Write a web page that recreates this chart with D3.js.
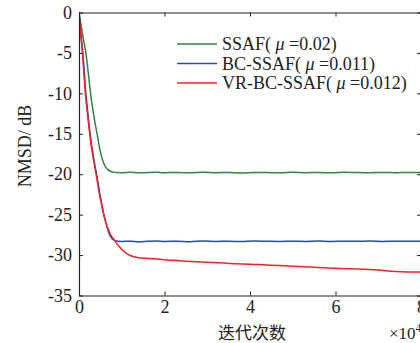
<!DOCTYPE html>
<html>
<head>
<meta charset="utf-8">
<script src="https://cdn.jsdelivr.net/npm/d3@7"></script>
<style>
  body { margin: 0; background: #fff; }
  svg { display: block; }
  text { font-family: "Liberation Serif", "DejaVu Serif", serif; fill: #222; }
</style>
</head>
<body>
<svg id="chart" width="420" height="343"></svg>
<script>
// x in units of 10^4 iterations, y in dB
var xTicks = [0, 2, 4, 6, 8];
var yTicks = [0, -5, -10, -15, -20, -25, -30, -35];
var seriesNames = ["SSAF( ", "BC-SSAF( ", "VR-BC-SSAF( "];
var seriesMu = [" =0.02)", " =0.011)", " =0.012)"];
var seriesColors = ["#2e8540", "#1f4fa6", "#f02323"];

var ssaf = [[0,0],[0.05,-1.6],[0.1,-3.2],[0.16,-5],[0.22,-7.6],[0.27,-10],[0.32,-11.9],[0.37,-13.5],
  [0.43,-15.2],[0.49,-17.0],[0.55,-18.2],[0.6,-18.9],[0.66,-19.35],[0.72,-19.6],[0.8,-19.74],[0.9,-19.8],
  [1.0,-19.82],[1.2,-19.77],[1.4,-19.83],[1.6,-19.79],[1.8,-19.76],[2.0,-19.82],[2.3,-19.78],[2.6,-19.83],
  [2.9,-19.77],[3.2,-19.81],[3.5,-19.79],[3.8,-19.84],[4.1,-19.78],[4.4,-19.8],[4.7,-19.82],[5.0,-19.77],
  [5.3,-19.81],[5.6,-19.78],[5.9,-19.83],[6.2,-19.76],[6.5,-19.8],[6.8,-19.82],[7.1,-19.78],[7.4,-19.81],
  [7.7,-19.79],[8.0,-19.8]];

var bcssaf = [[0,0],[0.04,-2.4],[0.09,-5],[0.16,-10],[0.21,-12.6],[0.26,-15],[0.33,-17.6],[0.41,-20],
  [0.5,-22.8],[0.58,-25],[0.65,-26.4],[0.7,-27.3],[0.76,-27.9],[0.82,-28.15],[0.9,-28.3],[1.0,-28.32],
  [1.2,-28.28],[1.4,-28.34],[1.6,-28.3],[1.8,-28.26],[2.0,-28.32],[2.3,-28.28],[2.6,-28.34],[2.9,-28.27],
  [3.2,-28.31],[3.5,-28.29],[3.8,-28.33],[4.1,-28.27],[4.4,-28.3],[4.7,-28.32],[5.0,-28.28],[5.3,-28.31],
  [5.6,-28.27],[5.9,-28.32],[6.2,-28.29],[6.5,-28.3],[6.8,-28.27],[7.1,-28.31],[7.4,-28.29],[7.7,-28.3],
  [8.0,-28.3]];

var vrbcssaf = [[0,0],[0.035,-2.4],[0.08,-5],[0.15,-10],[0.2,-12.6],[0.25,-15],[0.32,-17.6],[0.4,-20],
  [0.49,-22.8],[0.58,-25],[0.66,-26.5],[0.73,-27.4],[0.8,-27.95],[0.88,-28.55],[0.96,-29.05],[1.04,-29.5],
  [1.11,-29.8],[1.2,-30.05],[1.34,-30.28],[1.5,-30.38],[1.65,-30.42],[1.85,-30.5],[2.05,-30.6],[2.3,-30.68],
  [2.6,-30.78],[3.0,-30.88],[3.4,-30.98],[3.7,-31.08],[4.2,-31.18],[4.7,-31.3],[5.15,-31.4],[5.5,-31.5],
  [5.8,-31.6],[6.3,-31.68],[6.7,-31.76],[7.0,-31.86],[7.4,-32.02],[7.7,-32.08],[8.0,-32.1]];

var allSeries = [ssaf, bcssaf, vrbcssaf];

var svg = d3.select("#chart");
var x = d3.scaleLinear().domain([0, 8]).range([79, 421]);
var y = d3.scaleLinear().domain([-35, 0]).range([295.5, 12.5]);

var line = d3.line()
  .x(d => x(d[0]))
  .y(d => y(d[1]))
  .curve(d3.curveMonotoneX);

svg.append("defs").append("clipPath").attr("id", "clip")
  .append("rect").attr("x", 79).attr("y", 12).attr("width", 342).attr("height", 284);

var g = svg.append("g").attr("clip-path", "url(#clip)");
allSeries.forEach(function (s, i) {
  g.append("path")
    .datum(s)
    .attr("d", line)
    .attr("fill", "none")
    .attr("stroke", seriesColors[i])
    .attr("stroke-width", 1.5);
});

// axes (inward ticks, box on)
var axBottom = d3.axisBottom(x).tickValues(xTicks).tickSizeInner(-4).tickSizeOuter(0).tickPadding(5);
var axLeft = d3.axisLeft(y).tickValues(yTicks).tickSizeInner(-4).tickSizeOuter(0).tickPadding(7)
  .tickFormat(d => d === 0 ? "0" : "-" + Math.abs(d));
var axTop = d3.axisTop(x).tickValues(xTicks).tickSizeInner(-4).tickSizeOuter(0).tickFormat("");
var axRight = d3.axisRight(y).tickValues(yTicks).tickSizeInner(-4).tickSizeOuter(0).tickFormat("");

function styleAxis(sel) {
  sel.attr("font-family", null).attr("font-size", null);
  sel.selectAll("path").attr("stroke", "#222").attr("stroke-width", 1.2);
  sel.selectAll("line").attr("stroke", "#222").attr("stroke-width", 1);
  sel.selectAll("text").attr("font-size", 18).attr("fill", "#222");
}

svg.append("g").attr("transform", "translate(0,295.5)").call(axBottom).call(styleAxis);
svg.append("g").attr("transform", "translate(79,0)").call(axLeft).call(styleAxis);
svg.append("g").attr("transform", "translate(0,12.5)").call(axTop).call(styleAxis);
svg.append("g").attr("transform", "translate(421,0)").call(axRight).call(styleAxis);

// axis labels
svg.append("text")
  .attr("x", 252).attr("y", 339)
  .attr("text-anchor", "middle")
  .style("font-family", "'Noto Sans CJK SC', sans-serif")
  .attr("font-size", 17)
  .text("迭代次数");

var mult = svg.append("text").attr("x", 389).attr("y", 339).attr("font-size", 17);
mult.append("tspan").text("×10");
mult.append("tspan").attr("dy", -7).attr("font-size", 12).text("4");

svg.append("text")
  .attr("transform", "translate(31,146) rotate(-90)")
  .attr("text-anchor", "middle")
  .attr("font-size", 18)
  .text("NMSD/ dB");

// legend
var legend = svg.append("g");
seriesNames.forEach(function (name, i) {
  var ly = 44 + i * 19.5;
  legend.append("line")
    .attr("x1", 177).attr("x2", 217).attr("y1", ly).attr("y2", ly)
    .attr("stroke", seriesColors[i]).attr("stroke-width", 1.5);
  var t = legend.append("text").attr("x", 222).attr("y", ly + 6).attr("font-size", 18)
    .attr("xml:space", "preserve").style("white-space", "pre");
  t.append("tspan").text(name);
  t.append("tspan").attr("font-style", "italic").text("\u03bc");
  t.append("tspan").text(seriesMu[i]);
});
</script>
</body>
</html>
